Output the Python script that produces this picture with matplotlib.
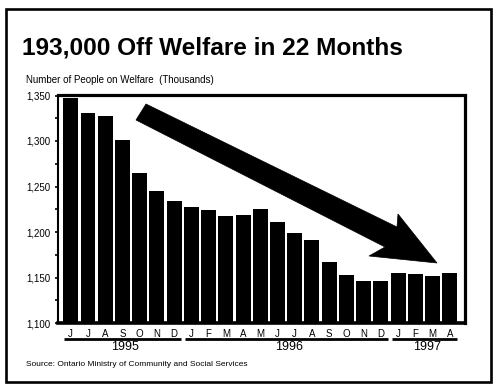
import numpy as np
import matplotlib
matplotlib.use("Agg")
import matplotlib.pyplot as plt
from matplotlib.patches import Polygon, Rectangle
from matplotlib.ticker import MultipleLocator, FuncFormatter
import matplotlib.transforms as mtransforms

plt.rcParams['font.family'] = ['Liberation Sans', 'DejaVu Sans']

# data (thousands of people on welfare, June 1995 - April 1997)
months = ['J', 'J', 'A', 'S', 'O', 'N', 'D',
          'J', 'F', 'M', 'A', 'M', 'J', 'J', 'A', 'S', 'O', 'N', 'D',
          'J', 'F', 'M', 'A']
caseload = [1347, 1331, 1327, 1301.5, 1265, 1245, 1234,
            1227, 1224, 1217.5, 1219, 1225, 1211, 1199, 1191, 1167, 1153, 1146, 1146,
            1155, 1154, 1151.5, 1155]
years = ['1995', '1996', '1997']
year_groups = [(0, 6), (7, 18), (19, 22)]

W, H = 501, 392
fig = plt.figure(figsize=(W / 100, H / 100), dpi=100)
fig.patch.set_facecolor('white')


def px(x, y):
    return (x / W, 1 - y / H)


ax = fig.add_axes([57.5 / W, 1 - 323 / H, (465 - 57.5) / W, (323 - 95.5) / H])
x = np.arange(len(caseload))
ax.bar(x, np.array(caseload) - 1100, bottom=1100, width=0.87, color='black')
ax.set_xlim(-0.77, 22.88)
ax.set_ylim(1100, 1350)

ax.yaxis.set_major_locator(MultipleLocator(50))
ax.yaxis.set_minor_locator(MultipleLocator(25))
ax.yaxis.set_major_formatter(FuncFormatter(lambda v, p: f'{int(v):,}'))
ax.tick_params(axis='y', which='both', length=2, width=1.2, pad=3, labelsize=7)
ax.set_xticks(x)
ax.set_xticklabels(months)
ax.tick_params(axis='x', length=0, pad=4.5, labelsize=7)

for side, lw in [('left', 1.5), ('top', 2.3), ('right', 2.3), ('bottom', 2.6)]:
    ax.spines[side].set_linewidth(lw)

# year underlines and labels
trans = mtransforms.blended_transform_factory(ax.transData, ax.transAxes)
for yr, (i0, i1) in zip(years, year_groups):
    ax.plot([i0 - 0.38, i1 + 0.42], [-0.072, -0.072], color='black', lw=2,
            transform=trans, clip_on=False, solid_capstyle='butt')
    ax.text((i0 + i1) / 2 + 0.15, -0.107, yr, transform=trans, ha='center', va='center',
            fontsize=9)

# titles and source
fig.text(*px(22, 55), '193,000 Off Welfare in 22 Months', fontsize=17.6, fontweight='bold',
         va='baseline', ha='left')
fig.text(*px(26, 80), 'Number of People on Welfare  (Thousands)', fontsize=7,
         va='center', ha='left')
fig.text(*px(26, 365), 'Source: Ontario Ministry of Community and Social Services',
         fontsize=6, va='center', ha='left')

# big downward arrow
arrow_px = [(146, 104), (397, 227), (398, 214), (437, 263), (369, 256), (385, 247), (136, 120)]
fig.patches.append(Polygon([px(a, b) for a, b in arrow_px], closed=True,
                           transform=fig.transFigure, facecolor='black', edgecolor='black',
                           lw=0.5))

# outer frame
fig.patches.append(Rectangle(px(6, 382), (490.5 - 6) / W, (382 - 9) / H, fill=False,
                             edgecolor='black', lw=1.9, transform=fig.transFigure))

fig.savefig('out.png', dpi=100, facecolor='white')
